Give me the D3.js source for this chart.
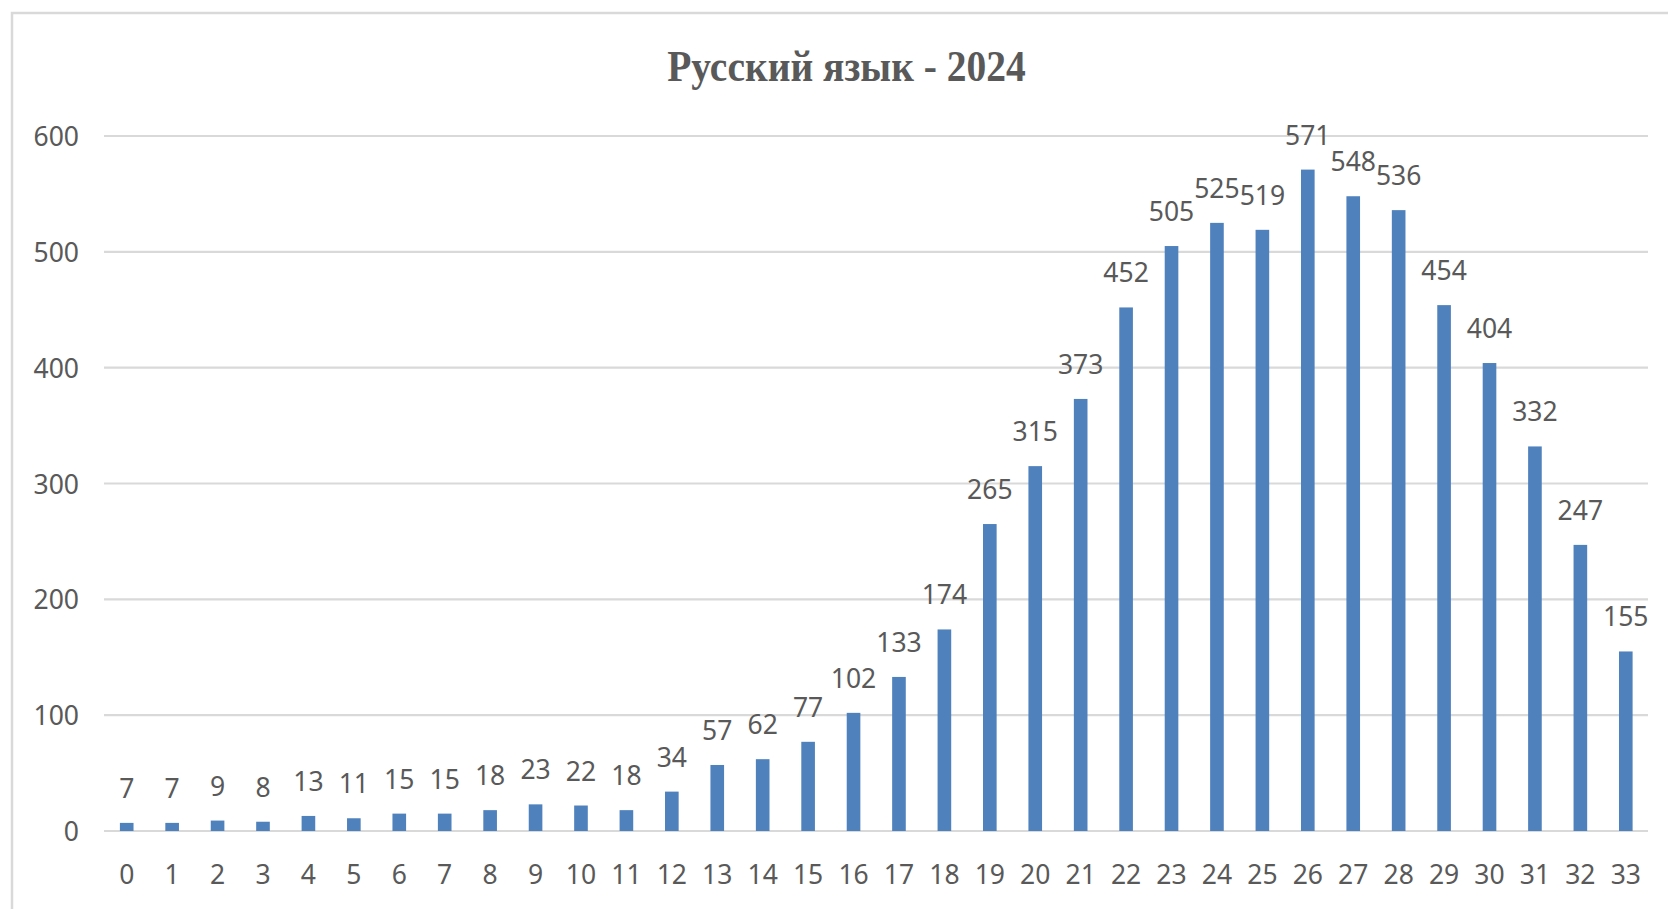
<!DOCTYPE html>
<html>
<head>
<meta charset="utf-8">
<script src="https://cdn.jsdelivr.net/npm/d3@7"></script>
<style>
  html, body { margin: 0; padding: 0; background: #fff; }
  svg { display: block; }
</style>
</head>
<body>
<script>
const titleText = "Русский язык - 2024";
const categories = d3.range(0, 34).map(String);
const values = [7, 7, 9, 8, 13, 11, 15, 15, 18, 23, 22, 18, 34, 57, 62, 77, 102, 133, 174, 265, 315, 373, 452, 505, 525, 519, 571, 548, 536, 454, 404, 332, 247, 155];
const yTicks = [0, 100, 200, 300, 400, 500, 600];

const W = 1668, H = 909;
const svg = d3.select("body").append("svg").attr("width", W).attr("height", H);
svg.append("rect").attr("width", W).attr("height", H).attr("fill", "#fff");

// outer chart border (clipped right/bottom in reference)
svg.append("rect")
  .attr("x", 12).attr("y", 13).attr("width", W + 20).attr("height", H + 20)
  .attr("fill", "none").attr("stroke", "#d9d9d9").attr("stroke-width", 2.5);

const x = d3.scaleBand().domain(categories).range([104, 1648.5]).paddingInner(0.7).paddingOuter(0.35);
const y = d3.scaleLinear().domain([0, 600]).range([831, 136]);

const textColor = "#595959";
const font = "'Noto Sans', 'Open Sans', sans-serif";

// gridlines
svg.append("g").selectAll("line").data(yTicks).join("line")
  .attr("x1", 104).attr("x2", 1648)
  .attr("y1", d => y(d)).attr("y2", d => y(d))
  .attr("stroke", "#d9d9d9").attr("stroke-width", 2.2);

// y axis labels
const yAxis = svg.append("g").attr("transform", "translate(79,0)")
  .call(d3.axisLeft(y).tickValues(yTicks).tickSize(0).tickPadding(0));
yAxis.select(".domain").remove();
yAxis.selectAll("text")
  .attr("fill", textColor).attr("font-family", font).attr("font-size", 26.5)
  .attr("dy", "0.36em");

// x axis labels
const xAxis = svg.append("g").attr("transform", "translate(0,884)")
  .call(d3.axisBottom(x).tickSize(0).tickPadding(0));
xAxis.select(".domain").remove();
xAxis.selectAll("text")
  .attr("fill", textColor).attr("font-family", font).attr("font-size", 26.5)
  .attr("dy", "0");

// bars
svg.append("g").selectAll("rect").data(values).join("rect")
  .attr("x", (d, i) => x(categories[i]))
  .attr("width", x.bandwidth())
  .attr("y", d => y(d))
  .attr("height", d => y(0) - y(d))
  .attr("fill", "#4f81bd");

// data labels
svg.append("g").selectAll("text").data(values).join("text")
  .attr("x", (d, i) => x(categories[i]) + x.bandwidth() / 2)
  .attr("y", d => y(d) - 25)
  .attr("text-anchor", "middle")
  .attr("fill", textColor).attr("font-family", font).attr("font-size", 26.5)
  .text(d => d);

// title
svg.append("text")
  .attr("transform", "translate(846.5,80.5) scale(1,1.1)")
  .attr("text-anchor", "middle")
  .attr("fill", textColor)
  .attr("font-family", "'Liberation Serif', 'Times New Roman', serif")
  .attr("font-weight", "bold")
  .attr("font-size", 39.5)
  .text(titleText);
</script>
</body>
</html>
